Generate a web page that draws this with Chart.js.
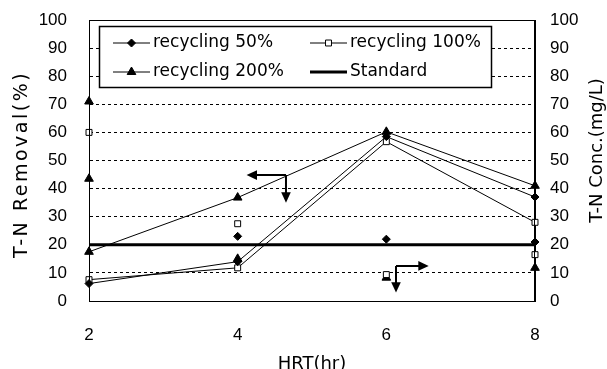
<!DOCTYPE html>
<html>
<head>
<meta charset="utf-8">
<title>T-N removal vs HRT</title>
<script src="https://cdn.jsdelivr.net/npm/chart.js@4.4.1/dist/chart.umd.min.js"></script>
<style>
  html, body { margin: 0; padding: 0; background: #fff; }
</style>
</head>
<body>
<canvas id="tnChart" width="607" height="369"></canvas>
<script>
// HRT (hr) on the x axis
var hrt = [2, 4, 6, 8];

// T-N removal (%) - left axis, joined by lines
var removal50 = [6.2, 14, 58.5, 37];
var removal100 = [7.6, 11.8, 56.7, 28];
var removal200 = [17.5, 36.8, 60.2, 41];

// T-N concentration (mg/L) - right axis, markers only
var conc50 = [43.5, 23, 22, 21];
var conc100 = [60, 27.5, 9.4, 16.5];
var conc200 = [71, 15, 8.3, 11.8];

// effluent standard (mg/L)
var standard = [20, 20, 20, 20];

var legendLabels = ["recycling 50%", "recycling 100%", "recycling 200%", "Standard"];
var leftTitle = "T-N Removal(%)";
var rightTitle = "T-N Conc.(mg/L)";

function toPoints(values) {
  return hrt.map(function (h, i) {
    return { x: h, y: values[i] };
  });
}

var tickFont = { family: "'Liberation Sans', Arial, sans-serif", size: 17 };
var titleFont = { family: "'DejaVu Sans', sans-serif", size: 18 };

function markerStyle(kind) {
  if (kind === "diamond") {
    return { pointStyle: "rectRot", pointRadius: 4, pointBackgroundColor: "#000", pointBorderColor: "#000" };
  } else if (kind === "square") {
    return { pointStyle: "rect", pointRadius: 4.2, pointBackgroundColor: "#fff", pointBorderColor: "#000" };
  }
  return { pointStyle: "triangle", pointRadius: 5, pointBackgroundColor: "#000", pointBorderColor: "#000" };
}

function lineSet(label, values, kind) {
  return Object.assign({
    label: label,
    data: toPoints(values),
    yAxisID: "y",
    borderColor: "#000",
    borderWidth: 1,
    pointBorderWidth: 1,
    fill: false,
    clip: false,
  }, markerStyle(kind));
}

function concSet(label, values, kind) {
  return Object.assign({
    label: label,
    data: toPoints(values),
    yAxisID: "y1",
    showLine: false,
    borderColor: "#000",
    pointBorderWidth: 1,
    clip: false,
  }, markerStyle(kind));
}

var conc50Set = concSet("conc 50%", conc50, "diamond");
// the first 50% concentration marker is printed as a triangle in the figure
conc50Set.pointStyle = ["triangle", "rectRot", "rectRot", "rectRot"];
conc50Set.pointRadius = [5, 4, 4, 4];

// legend drawn inside the plot, like the original figure
var boxLegend = {
  id: "boxLegend",
  afterDatasetsDraw: function (chart) {
    var ctx = chart.ctx;
    var area = chart.chartArea;
    var left = area.left + 10;
    var top = area.top + 6;
    var w = 392;
    var h = 61;
    ctx.save();
    ctx.fillStyle = "#fff";
    ctx.fillRect(left, top, w, h);
    ctx.strokeStyle = "#000";
    ctx.lineWidth = 1.5;
    ctx.strokeRect(left + 0.5, top + 0.5, w, h);

    var rows = [top + 17, top + 46];
    var cols = [left + 14, left + 211];
    var kinds = ["diamond", "square", "triangle", "standard"];
    ctx.font = "17px 'DejaVu Sans', sans-serif";
    ctx.textBaseline = "middle";
    for (var i = 0; i < 4; i++) {
      var x0 = cols[i % 2];
      var y0 = rows[Math.floor(i / 2)];
      ctx.strokeStyle = "#000";
      ctx.beginPath();
      ctx.lineWidth = kinds[i] === "standard" ? 3 : 1;
      ctx.moveTo(x0, y0);
      ctx.lineTo(x0 + 37, y0);
      ctx.stroke();
      if (kinds[i] !== "standard") {
        var m = markerStyle(kinds[i]);
        ctx.lineWidth = 1;
        ctx.fillStyle = m.pointBackgroundColor;
        Chart.helpers.drawPoint(ctx, { pointStyle: m.pointStyle, radius: m.pointRadius, rotation: 0, borderWidth: 1 }, x0 + 18.5, y0);
      }
      ctx.fillStyle = "#000";
      ctx.fillText(legendLabels[i], x0 + 40, y0);
    }
    ctx.restore();
  },
};

// arrows showing which axis each group belongs to (in data units)
var arrowMarks = [
  { x: 4.65, y: 44.8, toX: 4.12, downTo: 35 },
  { x: 6.13, y: 12.5, toX: 6.57, downTo: 3 },
];

function arrowHead(ctx, x, y, dir) {
  var s = 8;
  ctx.beginPath();
  if (dir === "left") {
    ctx.moveTo(x, y); ctx.lineTo(x + s * 1.3, y - s * 0.6); ctx.lineTo(x + s * 1.3, y + s * 0.6);
  } else if (dir === "right") {
    ctx.moveTo(x, y); ctx.lineTo(x - s * 1.3, y - s * 0.6); ctx.lineTo(x - s * 1.3, y + s * 0.6);
  } else {
    ctx.moveTo(x, y); ctx.lineTo(x - s * 0.6, y - s * 1.3); ctx.lineTo(x + s * 0.6, y - s * 1.3);
  }
  ctx.closePath();
  ctx.fill();
}

function sideTitle(ctx, text, x, y, size, spacing) {
  ctx.save();
  ctx.font = size + "px 'DejaVu Sans', sans-serif";
  ctx.letterSpacing = spacing + "px";
  ctx.textAlign = "center";
  ctx.textBaseline = "middle";
  ctx.fillStyle = "#000";
  ctx.translate(x, y);
  ctx.rotate(-Math.PI / 2);
  ctx.fillText(text, 0, 0);
  ctx.restore();
}

var extras = {
  id: "extras",
  afterDraw: function (chart) {
    var ctx = chart.ctx;
    var xs = chart.scales.x;
    var ys = chart.scales.y;
    var area = chart.chartArea;
    ctx.save();
    ctx.strokeStyle = "#000";
    ctx.fillStyle = "#000";
    ctx.lineWidth = 2;
    arrowMarks.forEach(function (a) {
      var px = xs.getPixelForValue(a.x);
      var py = ys.getPixelForValue(a.y);
      var ex = xs.getPixelForValue(a.toX);
      var ey = ys.getPixelForValue(a.downTo);
      ctx.beginPath();
      ctx.moveTo(px, py);
      ctx.lineTo(ex + (ex < px ? 8 : -8), py);
      ctx.moveTo(px, py);
      ctx.lineTo(px, ey - 8);
      ctx.stroke();
      arrowHead(ctx, ex, py, ex < px ? "left" : "right");
      arrowHead(ctx, px, ey, "down");
    });

    // plot frame
    ctx.lineWidth = 1;
    ctx.strokeRect(area.left + 0.5, area.top + 0.5, area.right - area.left - 1, area.bottom - area.top);
    ctx.restore();

    // axis titles, both read bottom to top
    var mid = (area.top + area.bottom) / 2;
    sideTitle(ctx, leftTitle, 22, mid + 4, 19, 2.5);
    sideTitle(ctx, rightTitle, 597, mid - 10, 18, 0);
  },
};

function gridColor(c) {
  var v = c.tick ? c.tick.value : null;
  return v === 0 || v === 100 ? "rgba(0,0,0,0)" : "#000";
}

var ctx = document.getElementById("tnChart").getContext("2d");
new Chart(ctx, {
  type: "line",
  data: {
    datasets: [
      lineSet("recycling 50%", removal50, "diamond"),
      lineSet("recycling 100%", removal100, "square"),
      lineSet("recycling 200%", removal200, "triangle"),
      {
        label: "Standard",
        data: toPoints(standard),
        yAxisID: "y1",
        borderColor: "#000",
        borderWidth: 3,
        pointRadius: 0,
        fill: false,
      },
      conc50Set,
      concSet("conc 100%", conc100, "square"),
      concSet("conc 200%", conc200, "triangle"),
    ],
  },
  options: {
    responsive: false,
    animation: false,
    events: [],
    layout: { padding: { top: 20, left: 0, right: 0, bottom: 0 } },
    plugins: {
      legend: { display: false },
      tooltip: { enabled: false },
    },
    scales: {
      x: {
        type: "linear",
        min: 2,
        max: 8,
        ticks: { stepSize: 2, color: "#000", font: tickFont, padding: 24 },
        grid: { display: false, drawTicks: false },
        border: { display: true, color: "#000", width: 1 },
        title: {
          display: true,
          text: "HRT(hr)",
          color: "#000",
          font: titleFont,
          padding: { top: 0, bottom: -6 },
        },
        afterFit: function (scale) {
          scale.height = 68;
        },
      },
      y: {
        position: "left",
        min: 0,
        max: 100,
        ticks: { stepSize: 10, color: "#000", font: tickFont, padding: 0 },
        grid: { color: gridColor, lineWidth: 1, drawTicks: true, tickLength: 22, tickColor: "rgba(0,0,0,0)" },
        border: { display: true, color: "#000", dash: [3, 3] },
        afterFit: function (scale) {
          scale.width = 89;
        },
      },
      y1: {
        position: "right",
        min: 0,
        max: 100,
        ticks: { stepSize: 10, color: "#000", font: tickFont, padding: 0 },
        grid: { display: false, drawTicks: true, tickLength: 15 },
        border: { display: true, color: "#000" },
        afterFit: function (scale) {
          scale.width = 72;
        },
      },
    },
  },
  plugins: [boxLegend, extras],
});
</script>
</body>
</html>
